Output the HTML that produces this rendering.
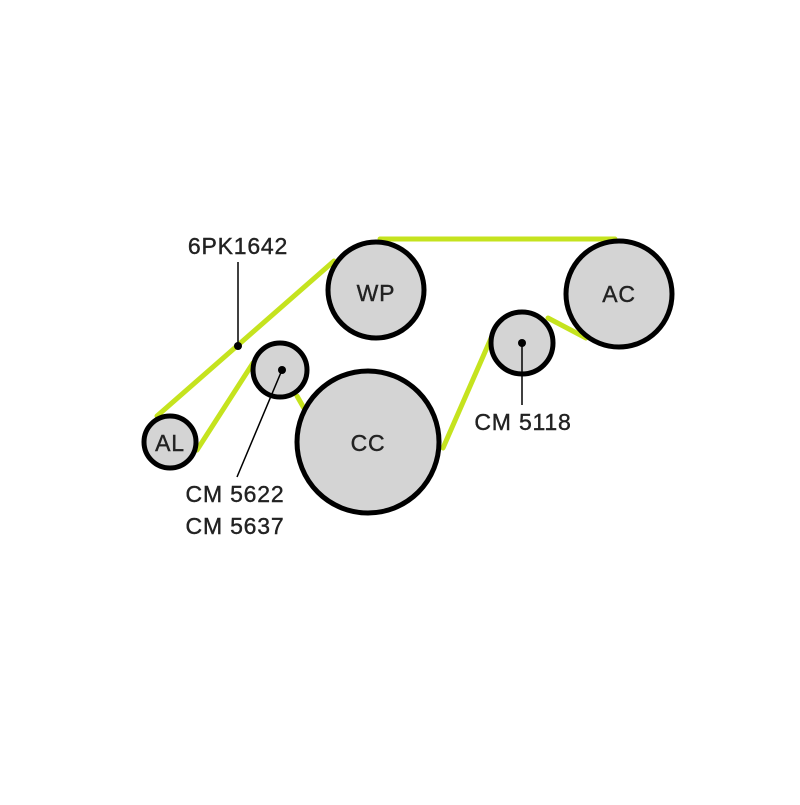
<!DOCTYPE html>
<html><head><style>body{margin:0;background:#fff}</style></head><body>
<svg width="800" height="800" viewBox="0 0 800 800" xmlns="http://www.w3.org/2000/svg" font-family="Liberation Sans, sans-serif">
<g stroke="#c5e31e" stroke-width="5" stroke-linecap="round" fill="none">
<line x1="157" y1="416" x2="334" y2="261"/>
<line x1="380" y1="239" x2="615" y2="239"/>
<line x1="548" y1="318" x2="586" y2="338"/>
<line x1="443" y1="448" x2="492" y2="336"/>
<line x1="197" y1="450" x2="253" y2="363"/>
<line x1="297" y1="396" x2="305" y2="410"/>
</g>
<g stroke="#000" stroke-width="5" fill="#d4d4d4">
<circle cx="376" cy="290" r="48"/>
<circle cx="619" cy="294" r="53"/>
<circle cx="368" cy="442" r="71"/>
<circle cx="170" cy="442" r="26"/>
<circle cx="280" cy="370" r="27"/>
<circle cx="522" cy="343" r="31"/>
</g>
<g font-size="23" fill="#222" stroke="#222" stroke-width="0.4" text-anchor="middle" letter-spacing="0.8">
<text x="376" y="301">WP</text>
<text x="619" y="302">AC</text>
<text x="368" y="451">CC</text>
<text x="170" y="451">AL</text>
<text x="238" y="254">6PK1642</text>
<text x="235" y="502">CM 5622</text>
<text x="235" y="534">CM 5637</text>
<text x="523" y="430">CM 5118</text>
</g>
<g stroke="#000" stroke-width="1.5">
<line x1="238" y1="262" x2="238" y2="346"/>
<line x1="282" y1="370" x2="237" y2="477"/>
<line x1="522" y1="343" x2="522" y2="405"/>
</g>
<circle cx="238" cy="346" r="4"/>
<circle cx="282" cy="370" r="4"/>
<circle cx="522" cy="343" r="4"/>
</svg>
</body></html>
